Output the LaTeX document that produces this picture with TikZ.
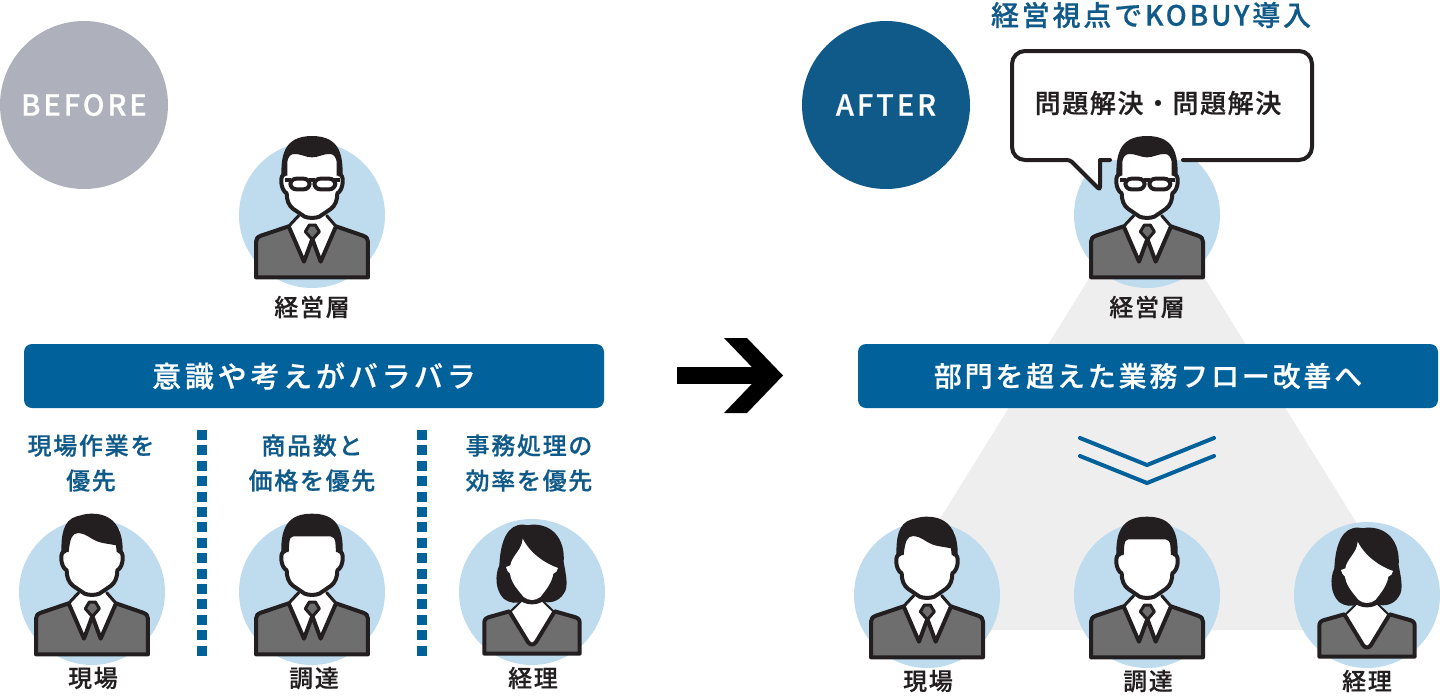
\documentclass[tikz,border=0pt]{standalone}
\usepackage{fontspec}
\setmainfont{Noto Sans CJK JP Medium}
\newfontfamily\fa{Noto Sans CJK JP Medium}[LetterSpace=7,FakeBold=0.5]
\newfontfamily\fb{Noto Sans CJK JP Medium}[LetterSpace=10,FakeBold=0.5]
\newfontfamily\fd{Noto Sans CJK JP Medium}[LetterSpace=13,FakeBold=0.5]
\newfontfamily\fc{Noto Sans CJK JP Medium}[LetterSpace=6,FakeBold=0.5]
\definecolor{blueb}{HTML}{00619B}
\definecolor{bluec}{HTML}{0F5A88}
\definecolor{greyc}{HTML}{AEB0BC}
\definecolor{skyc}{HTML}{BFDBEE}
\definecolor{suitc}{HTML}{6E6E6E}
\definecolor{inkc}{HTML}{231F20}
\definecolor{triac}{HTML}{EEEEEE}
\tikzset{x=1pt,y=-1pt,
 line/.style={draw=inkc,line width=4pt,line join=round,line cap=round},
 lbl/.style={font=\fa\fontsize{24}{28}\selectfont,text=inkc,inner sep=0pt},
 bluetxt/.style={font=\fa\fontsize{24}{35}\selectfont,text=bluec,align=center,inner sep=0pt},
 band/.style={fill=blueb,rounded corners=8pt,minimum width=580pt,minimum height=64pt,text=white,inner sep=0pt},
 badge/.style={circle,minimum size=168pt,inner sep=0pt,text=white,font=\fb\fontsize{29}{32}\selectfont},
 disc/.style={circle,fill=skyc,minimum size=146pt,inner sep=0pt}}
\newcommand{\suitman}{%
 \fill[white] (-70,40) -- (-40,0) -- (44,0) -- (72,40) -- (30,150) -- (-30,150) -- cycle;
 \path[line,fill=suitc] (-168,187) -- (-168,80) .. controls (-168,70) and (-163,66) .. (-153,62) -- (-70,34) -- (-24,140) -- (1,72) -- (26,140) -- (72,34) -- (153,62) .. controls (163,66) and (168,70) .. (168,80) -- (168,187) -- cycle;
 \path[line,fill=suitc,line width=3pt] (1,30) -- (-8,30) -- (-20,50) -- (1,74) -- (22,50) -- (10,30) -- cycle;
 \path[line,fill=none,line width=3pt] (-70,34) -- (-40,2); \path[line,fill=none,line width=3pt] (72,34) -- (44,2);
}
\newcommand{\manhead}{%
 \fill[white] (-84,-190) rectangle (84,-118);
 \path[line,fill=white] (-82,-122) .. controls (-98,-122) and (-95,-75) .. (-76,-65) .. controls (-76,-45) and (-70,-28) .. (-56,-18) -- (-22,5) .. controls (-10,10) and (10,10) .. (22,5) -- (56,-18) .. controls (70,-28) and (76,-45) .. (76,-65) .. controls (95,-75) and (98,-122) .. (82,-122);
}
\newcommand{\hairglass}{%
 \fill[inkc] (-92,-118) .. controls (-92,-170) and (-90,-237) .. (0,-237) .. controls (90,-237) and (92,-170) .. (92,-118) -- (74,-118) -- (74,-160) .. controls (72,-172) and (66,-183) .. (54,-183) .. controls (30,-183) and (20,-173) .. (0,-173) .. controls (-20,-173) and (-30,-183) .. (-54,-183) .. controls (-66,-183) and (-72,-172) .. (-74,-160) -- (-74,-118) -- cycle;
 \draw[draw=inkc,line width=4pt,rounded corners=6pt,fill=white] (-65,-109) rectangle (-7,-77);
 \draw[draw=inkc,line width=4pt,rounded corners=6pt,fill=white] (7,-109) rectangle (70,-77);
 \draw[draw=inkc,line width=4pt] (-10,-105) -- (10,-105) (-82,-106) -- (-62,-106) (66,-106) -- (84,-106);
}
\newcommand{\hairside}{%
 \fill[inkc] (-92,-118) .. controls (-92,-170) and (-88,-215) .. (-46,-227) .. controls (-30,-230) and (-25,-235) .. (0,-235) .. controls (65,-235) and (94,-190) .. (92,-118) -- (74,-120) -- (72,-140) .. controls (50,-145) and (35,-145) .. (15,-152) .. controls (-5,-160) and (-20,-177) .. (-41,-177) .. controls (-60,-177) and (-66,-160) .. (-70,-120) -- cycle;
}
\newcommand{\hairflat}{%
 \fill[inkc] (-92,-118) .. controls (-94,-190) and (-75,-235) .. (0,-235) .. controls (75,-235) and (94,-190) .. (92,-118) -- (72,-120) -- (70,-150) .. controls (68,-160) and (64,-167) .. (56,-167) -- (-56,-167) .. controls (-64,-167) and (-66,-160) .. (-68,-150) -- (-70,-120) -- cycle;
}
\newcommand{\manA}[2]{\begin{scope}[shift={(#1,#2)},x=0.3333pt,y=-0.3333pt]\suitman\manhead\hairglass\end{scope}}
\newcommand{\manB}[2]{\begin{scope}[shift={(#1,#2)},x=0.3333pt,y=-0.3333pt]\suitman\manhead\hairside\end{scope}}
\newcommand{\manC}[2]{\begin{scope}[shift={(#1,#2)},x=0.3333pt,y=-0.3333pt]\suitman\manhead\hairflat\end{scope}}
\newcommand{\lady}[2]{\begin{scope}[shift={(#1,#2)},x=0.3333pt,y=-0.3333pt]
 \fill[white] (-60,60) -- (-30,25) -- (30,25) -- (60,60) -- (0,165) -- cycle;
 \path[line,fill=none,line width=2pt] (-64,58) -- (-30,25); \path[line,fill=none,line width=2pt] (64,58) -- (30,25);
 \path[line,fill=suitc] (-143,185) -- (-143,92) .. controls (-143,82) and (-138,78) .. (-128,75) -- (-68,58) -- (-12,150) .. controls (-5,160) and (5,160) .. (12,150) -- (68,58) -- (128,75) .. controls (138,78) and (143,82) .. (143,92) -- (143,185) -- cycle;
 \fill[inkc] (-25,-202) .. controls (-75,-205) and (-95,-150) .. (-98,-80) .. controls (-112,-50) and (-110,-5) .. (-85,20) .. controls (-65,35) and (-45,35) .. (-32,28) .. controls (-15,40) and (15,40) .. (32,28) .. controls (50,35) and (80,30) .. (95,5) .. controls (112,-15) and (100,-60) .. (95,-90) .. controls (100,-160) and (60,-205) .. (0,-202) .. controls (-10,-200) and (-15,-200) .. (-25,-202) -- cycle;
 \fill[white] (-28,-160) .. controls (-30,-125) and (-60,-110) .. (-65,-80) -- (-78,-75) .. controls (-76,-65) and (-72,-60) .. (-66,-55) .. controls (-62,-30) and (-50,-15) .. (-25,15) .. controls (-10,27) and (10,27) .. (25,15) .. controls (45,-10) and (60,-30) .. (64,-55) .. controls (72,-58) and (76,-62) .. (78,-72) .. controls (40,-85) and (-5,-115) .. (-28,-160) -- cycle;
\end{scope}}
\begin{document}
\begin{tikzpicture}
\useasboundingbox (0,0) rectangle (1440,697);
\fill[triac] (1147,185) -- (1423,630) -- (871,630) -- cycle;
% badges
\node[badge,fill=greyc] (before) at (84,105) {\raisebox{-1pt}{BEFORE}};
\node[badge,fill=bluec] (after) at (886,105) {\raisebox{-1pt}{AFTER}};
% discs
\foreach \n/\x/\y in {d1/312/215,d2/92/592,d3/312/592,d4/532/592,d5/1147/215,d6/927/595,d7/1147/595,d8/1367/595}{\node[disc] (\n) at (\x,\y) {};}
% bubble
\draw[draw=inkc,line width=4pt,fill=white,line join=round,line cap=round] (1110,160) -- (1100,160) [rounded corners=3pt] -- (1100,190) -- (1070,160) [rounded corners=13pt] -- (1012,160) -- (1012,51) -- (1312,51) -- (1312,160) -- (1183,160);
\node[font=\fc\fontsize{26}{30}\selectfont,text=inkc,inner sep=0pt] (bt) at (1158,103) {問題解決・問題解決};
\node[font=\fb\fontsize{28}{32}\selectfont,text=bluec,inner sep=0pt] (tt) at (1151,15) {経営視点でKOBUY導入};
% persons
\manA{312}{215}\manB{92}{592}\manC{312}{592}\lady{532}{592}
\manA{1147}{215}\manB{927}{595}\manC{1147}{595}\lady{1367}{595}
% labels
\node[lbl] (l1) at (312,307) {経営層};
\node[lbl] (l5) at (1147,307) {経営層};
\node[lbl] (l2) at (93,678) {現場};
\node[lbl] (l3) at (314,678) {調達};
\node[lbl] (l4) at (533,678) {経理};
\node[lbl] (l6) at (928,681) {現場};
\node[lbl] (l7) at (1148,681) {調達};
\node[lbl] (l8) at (1367,681) {経理};
% bands
\node[band,font=\fd\fontsize{29}{32}\selectfont] (b1) at (314,376) {意識や考えがバラバラ};
\node[band,font=\fb\fontsize{28}{32}\selectfont] (b2) at (1148,376) {部門を超えた業務フロー改善へ};
% blue text
\node[bluetxt] (t1) at (91,463) {現場作業を\\優先};
\node[bluetxt] (t2) at (312,463) {商品数と\\価格を優先};
\node[bluetxt] (t3) at (529,463) {事務処理の\\効率を優先};
% dashes
\coordinate (da) at (202,430); \coordinate (db) at (202,656);
\coordinate (dc) at (422,430); \coordinate (dd) at (422,656);
\draw[blueb,line width=10pt,dash pattern=on 10pt off 5.4pt] (da) -- (db);
\draw[blueb,line width=10pt,dash pattern=on 10pt off 5.4pt] (dc) -- (dd);
% arrow
\coordinate (aa) at (677,375.5); \coordinate (ab) at (760,375.5);
\draw[black,line width=17pt] (aa) -- (ab);
\fill[black] (724,338) -- (747,338) -- (783,375.5) -- (747,413) -- (724,413) -- (760,375.5) -- cycle;
% chevrons
\coordinate (c1) at (1080,438); \coordinate (c2) at (1147,465); \coordinate (c3) at (1214,438);
\coordinate (c4) at (1080,456); \coordinate (c5) at (1147,483); \coordinate (c6) at (1214,456);
\draw[blueb,line width=4pt,line cap=round] (c1) -- (c2) -- (c3);
\draw[blueb,line width=4pt,line cap=round] (c4) -- (c5) -- (c6);
\end{tikzpicture}
\end{document}
